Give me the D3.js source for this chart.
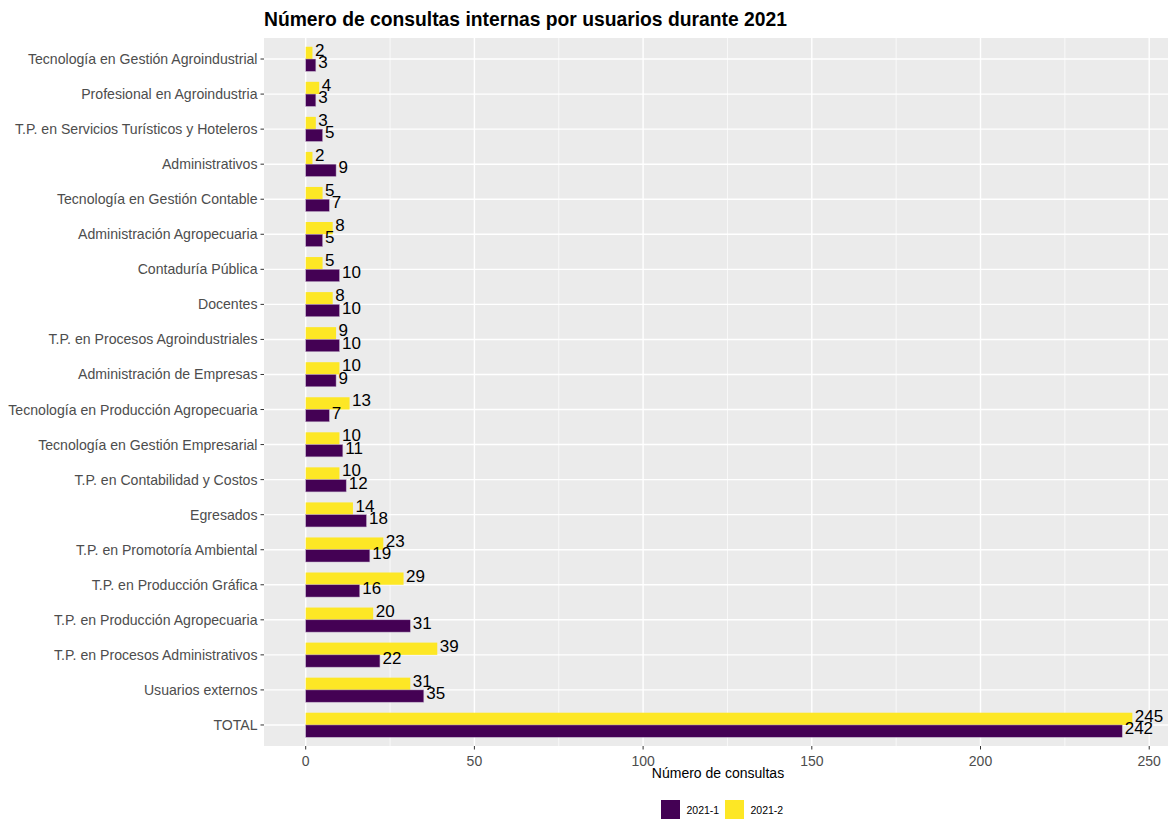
<!DOCTYPE html>
<html>
<head>
<meta charset="utf-8">
<script src="https://cdn.jsdelivr.net/npm/d3@7"></script>
<style>
  body { margin: 0; background: #fff; }
  svg { display: block; font-family: Arial, "Liberation Sans", sans-serif; }
</style>
</head>
<body>
<svg id="chart" width="1168" height="820"></svg>
<script>
const categories = [
  "Tecnología en Gestión Agroindustrial",
  "Profesional en Agroindustria",
  "T.P. en Servicios Turísticos y Hoteleros",
  "Administrativos",
  "Tecnología en Gestión Contable",
  "Administración Agropecuaria",
  "Contaduría Pública",
  "Docentes",
  "T.P. en Procesos Agroindustriales",
  "Administración de Empresas",
  "Tecnología en Producción Agropecuaria",
  "Tecnología en Gestión Empresarial",
  "T.P. en Contabilidad y Costos",
  "Egresados",
  "T.P. en Promotoría Ambiental",
  "T.P. en Producción Gráfica",
  "T.P. en Producción Agropecuaria",
  "T.P. en Procesos Administrativos",
  "Usuarios externos",
  "TOTAL"
];
const series1 = [3, 3, 5, 9, 7, 5, 10, 10, 10, 9, 7, 11, 12, 18, 19, 16, 31, 22, 35, 242]; // 2021-1
const series2 = [2, 4, 3, 2, 5, 8, 5, 8, 9, 10, 13, 10, 10, 14, 23, 29, 20, 39, 31, 245]; // 2021-2
const seriesNames = ["2021-1", "2021-2"];
const seriesColors = ["#440154", "#FDE725"];
const xTicks = [0, 50, 100, 150, 200, 250];
const xMinor = [25, 75, 125, 175, 225];
const title = "Número de consultas internas por usuarios durante 2021";
const xTitle = "Número de consultas";

const svg = d3.select("#chart");
const panel = { left: 264, right: 1181.6, top: 38, bottom: 746 };

const x = d3.scaleLinear().domain([-12.36, 259.6]).range([panel.left, panel.right]);
const y = d3.scaleBand().domain(categories).range([panel.top, panel.bottom]).paddingInner(0).paddingOuter(0.1);
const groupW = y.bandwidth() * 0.7;
const sub = d3.scaleBand().domain(["2021-2", "2021-1"]).range([0, groupW]);

svg.append("defs").append("clipPath").attr("id", "pclip")
  .append("rect").attr("x", panel.left).attr("y", panel.top)
  .attr("width", panel.right - panel.left).attr("height", panel.bottom - panel.top);

const g = svg.append("g").attr("clip-path", "url(#pclip)");
g.append("rect").attr("x", panel.left).attr("y", panel.top)
  .attr("width", panel.right - panel.left).attr("height", panel.bottom - panel.top)
  .attr("fill", "#EBEBEB");

// minor grid
g.selectAll("line.minor").data(xMinor).join("line")
  .attr("x1", d => x(d)).attr("x2", d => x(d))
  .attr("y1", panel.top).attr("y2", panel.bottom)
  .attr("stroke", "#fff").attr("stroke-width", 0.7);
// major grid
g.selectAll("line.majx").data(xTicks).join("line")
  .attr("x1", d => x(d)).attr("x2", d => x(d))
  .attr("y1", panel.top).attr("y2", panel.bottom)
  .attr("stroke", "#fff").attr("stroke-width", 1.4);
g.selectAll("line.majy").data(categories).join("line")
  .attr("x1", panel.left).attr("x2", panel.right)
  .attr("y1", d => y(d) + y.bandwidth() / 2).attr("y2", d => y(d) + y.bandwidth() / 2)
  .attr("stroke", "#fff").attr("stroke-width", 1.4);

const rows = [];
categories.forEach((c, i) => {
  rows.push({ cat: c, s: "2021-2", v: series2[i], color: seriesColors[1] });
  rows.push({ cat: c, s: "2021-1", v: series1[i], color: seriesColors[0] });
});

const yTop = d => y(d.cat) + (y.bandwidth() - groupW) / 2 + sub(d.s);

g.selectAll("rect.bar").data(rows).join("rect")
  .attr("x", x(0))
  .attr("y", d => yTop(d))
  .attr("width", d => x(d.v) - x(0))
  .attr("height", sub.bandwidth())
  .attr("fill", d => d.color)
  .attr("stroke", d => d.s === "2021-1" ? "#b9a6c4" : "none")
  .attr("stroke-width", 0.5);

g.selectAll("text.lab").data(rows).join("text")
  .attr("x", d => x(d.v) + 2.5)
  .attr("y", d => yTop(d) + sub.bandwidth() / 2 + 3)
  .attr("font-size", 17)
  .attr("fill", "#000")
  .text(d => d.v);

// axes
const ax = svg.append("g");
ax.selectAll("line.xt").data(xTicks).join("line")
  .attr("x1", d => x(d)).attr("x2", d => x(d))
  .attr("y1", panel.bottom).attr("y2", panel.bottom + 3.5)
  .attr("stroke", "#333").attr("stroke-width", 1);
ax.selectAll("text.xt").data(xTicks).join("text")
  .attr("x", d => x(d)).attr("y", panel.bottom + 19.5)
  .attr("text-anchor", "middle").attr("font-size", 14).attr("fill", "#4D4D4D")
  .text(d => d);
ax.selectAll("line.yt").data(categories).join("line")
  .attr("x1", panel.left - 3.5).attr("x2", panel.left)
  .attr("y1", d => y(d) + y.bandwidth() / 2).attr("y2", d => y(d) + y.bandwidth() / 2)
  .attr("stroke", "#333").attr("stroke-width", 1);
ax.selectAll("text.yt").data(categories).join("text")
  .attr("x", panel.left - 6.5).attr("y", d => y(d) + y.bandwidth() / 2 + 5)
  .attr("text-anchor", "end").attr("font-size", 14.1).attr("fill", "#4D4D4D")
  .text(d => d);

// titles
svg.append("text").attr("x", 264).attr("y", 26)
  .attr("font-size", 19.3).attr("font-weight", "bold").attr("fill", "#000")
  .text(title);
svg.append("text").attr("x", (panel.left + 1168) / 2 + 2).attr("y", 778)
  .attr("text-anchor", "middle").attr("font-size", 14).attr("fill", "#000")
  .text(xTitle);

// legend
const leg = svg.append("g");
const legItems = [
  { name: seriesNames[0], color: seriesColors[0], x: 661 },
  { name: seriesNames[1], color: seriesColors[1], x: 725 }
];
legItems.forEach(it => {
  leg.append("rect").attr("x", it.x).attr("y", 800).attr("width", 19).attr("height", 19).attr("fill", it.color);
  leg.append("text").attr("x", it.x + 25.5).attr("y", 813.5).attr("font-size", 10.5).attr("fill", "#000").text(it.name);
});
</script>
</body>
</html>
